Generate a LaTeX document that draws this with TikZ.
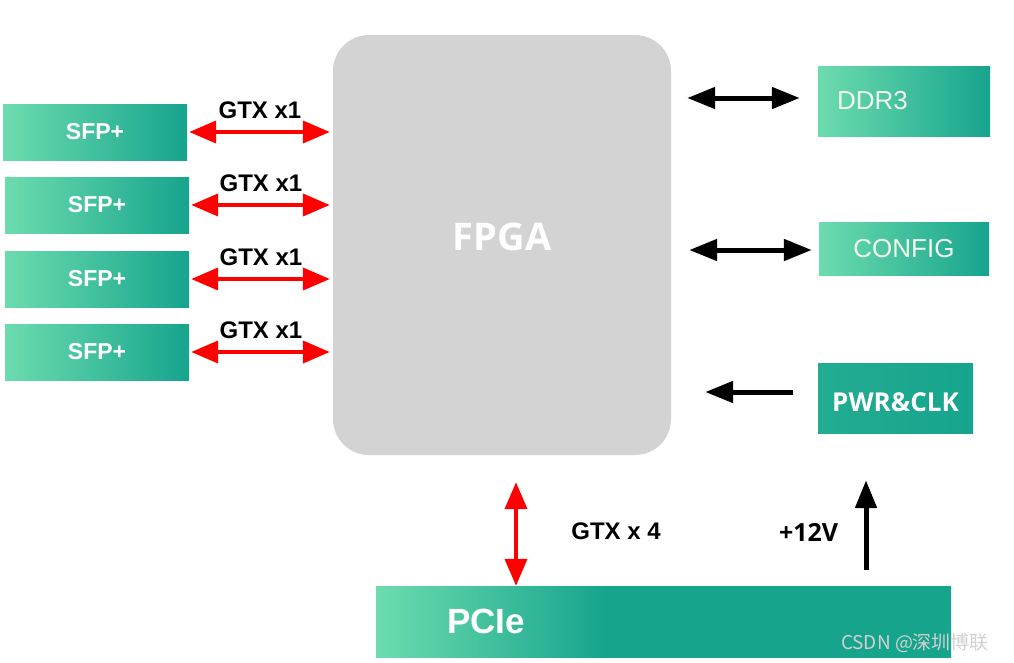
\documentclass[tikz,border=0pt]{standalone}
\usepackage{fontspec}
\usetikzlibrary{arrows.meta,positioning}
\newfontfamily\arialb{Liberation Sans}
\newfontfamily\segoe{Open Sans}
\newfontfamily\cjk{Noto Sans CJK SC}
\definecolor{Mint}{HTML}{6CDCAE}
\definecolor{Teal}{HTML}{16A48D}
\definecolor{Chip}{HTML}{D3D3D3}
\definecolor{Cream}{HTML}{F2F8EC}
\definecolor{Sig}{HTML}{FF0000}
\pgfdeclarehorizontalshading{pciefade}{100bp}{color(0bp)=(Mint); color(25bp)=(Mint);
  color(45bp)=(Teal); color(100bp)=(Teal)}

\begin{document}
\begin{tikzpicture}[x=1pt,y=-1pt,
      blk/.style={left color=Mint,right color=Teal,draw=none,inner sep=0pt},
      gtx/.style={{Triangle[width=22pt,length=27pt]}-{Triangle[width=22pt,length=27pt]},Sig,line width=4pt},
      ctl/.style={{Triangle[width=21pt,length=28pt]}-{Triangle[width=21pt,length=28pt]},black,line width=5pt},
      ctlin/.style={-{Triangle[width=21pt,length=28pt]},black,line width=5pt},
      lbl/.style={font=\arialb\bfseries\fontsize{24}{24}\selectfont,text=black}]
      \useasboundingbox (0,0) rectangle (1014,662);
      \node[fill=Chip,draw=none,rounded corners=36pt,minimum width=338pt,minimum height=420pt,
        label={[yshift=8pt,font=\segoe\bfseries\fontsize{38}{38}\selectfont,text=white]center:FPGA}]
        (fpga) at (502,245) {};
      % SFP+ cages on the left
      \foreach \i/\x/\y in {1/95/132,2/97/205,3/97/279,4/97/352}{
        \node[blk,minimum width=184pt,minimum height=56pt,
          font=\arialb\bfseries\fontsize{23}{23}\selectfont,text=white] (sfp\i) at (\x,\y) {SFP+};
        \draw[gtx,shorten <=2pt,shorten >=3pt] (sfp\i.east) -- (sfp\i.east -| fpga.west)
          node[lbl,midway,above=8pt] {GTX x1};
      }
      % right side peripherals
      \node[blk,minimum width=172pt,minimum height=70pt,text=Cream,
        font=\arialb\fontsize{26}{26}\selectfont,text width=134pt,align=left] (ddr) at (904,101) {DDR3};
      \node[blk,minimum width=170pt,minimum height=53pt,text=Cream,
        font=\arialb\fontsize{26}{26}\selectfont] (cfg) at (904,248.5) {CONFIG};
      \node[blk,left color=Teal!85!Mint,minimum width=155pt,minimum height=70pt,
        label={[yshift=-4pt,font=\segoe\bfseries\fontsize{26}{26}\selectfont,text=white]center:PWR\&CLK}]
        (pwr) at (895.5,398) {};
      \draw[ctl,shorten <=16pt,shorten >=18pt] ([yshift=3pt]fpga.east |- ddr) -- ([yshift=3pt]ddr.west);
      \draw[ctl,shorten <=18pt,shorten >=7pt] ([yshift=-1.5pt]fpga.east |- cfg) -- ([yshift=-1.5pt]cfg.west);
      \draw[ctlin,shorten <=25pt,shorten >=34pt] ([yshift=6pt]pwr.west) -- ([yshift=6pt]fpga.east |- pwr.west);
      % PCIe edge connector
      \node[shading=pciefade,draw=none,minimum width=575pt,minimum height=71pt,text width=433pt,align=left,
        font=\arialb\bfseries\fontsize{35}{35}\selectfont,text=white] (pcie) at (663.5,621.5) {PCIe};
      \draw[gtx,shorten <=27pt] ([xshift=14pt]fpga.south) -- ([xshift=14pt]fpga.south |- pcie.north)
        node[lbl,pos=0.58,right=50pt] {GTX x 4};
      \draw[ctlin,shorten <=16pt,shorten >=47pt] ([xshift=-29.5pt]pwr.south |- pcie.north) -- ([xshift=-29.5pt]pwr.south)
        node[pos=0.35,left=22pt,font=\segoe\bfseries\fontsize{25}{25}\selectfont] {+12V};
      \node[font=\cjk\fontsize{19}{19}\selectfont,text=white!82!black] (mark) at (915,643) {CSDN @深圳博联};
    \end{tikzpicture}
\end{document}
